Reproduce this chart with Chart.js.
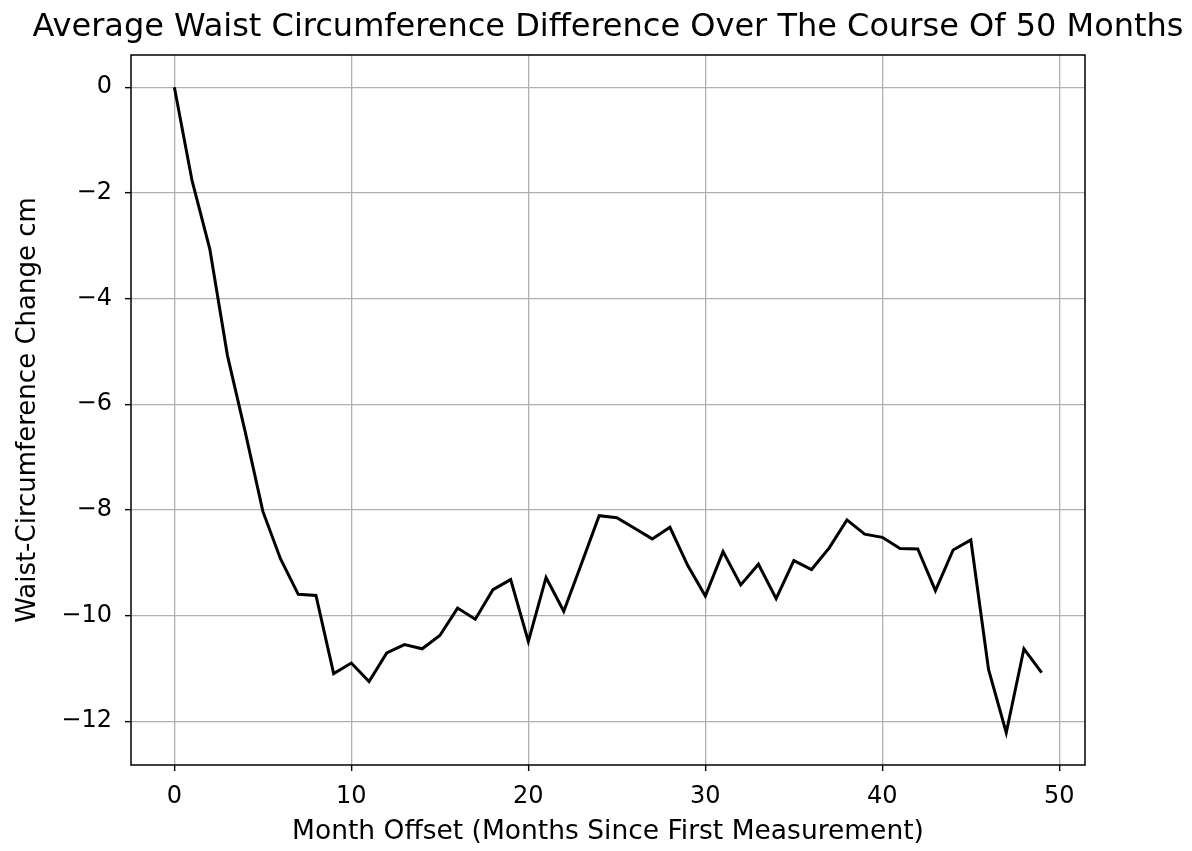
<!DOCTYPE html>
<html>
<head>
<meta charset="utf-8">
<script src="https://cdn.jsdelivr.net/npm/chart.js@4/dist/chart.umd.min.js"></script>
<style>
  html, body { margin: 0; padding: 0; background: #fff; }
  #wrap { width: 1192px; height: 851px; }
</style>
</head>
<body>
<div id="wrap"><canvas id="chart" width="1192" height="851"></canvas></div>
<script>
// 数据：月份偏移与腰围变化
const months = [];
for (let m = 0; m < 50; m++) months.push(m);
const waistChange = [
  0, -1.77, -3.06, -5.08, -6.52, -8.03, -8.93, -9.6, -9.62, -11.1,
  -10.9, -11.25, -10.71, -10.55, -10.63, -10.38, -9.86, -10.07, -9.51, -9.32,
  -10.49, -9.28, -9.92, -9.02, -8.11, -8.15, -8.35, -8.55, -8.33, -9.05,
  -9.63, -8.79, -9.42, -9.03, -9.68, -8.96, -9.13, -8.72, -8.19, -8.46,
  -8.52, -8.73, -8.74, -9.53, -8.76, -8.57, -11.02, -12.22, -10.63, -11.08
];
const xTicks = [0, 10, 20, 30, 40, 50];
const yTicks = [0, -2, -4, -6, -8, -10, -12];

const titleText = 'Average Waist Circumference Difference Over The Course Of 50 Months';
const fontFamily = '"DejaVu Sans", sans-serif';

// 外框 + 标题
const framePlugin = {
  id: 'frame',
  afterDraw(chart) {
    const { ctx, chartArea: a } = chart;
    ctx.save();
    ctx.strokeStyle = '#000';
    ctx.lineWidth = 1.5;
    ctx.strokeRect(a.left, a.top, a.right - a.left, a.bottom - a.top);
    ctx.fillStyle = '#000';
    ctx.font = '32px ' + fontFamily;
    ctx.textAlign = 'center';
    ctx.textBaseline = 'alphabetic';
    ctx.fillText(titleText, 608, 36);
    ctx.restore();
  }
};

const gridStyle = {
  color: '#b0b0b0',
  lineWidth: 1.3,
  tickColor: '#000',
  tickLength: 6,
  tickWidth: 1.4
};

new Chart(document.getElementById('chart'), {
  type: 'line',
  data: {
    datasets: [{
      data: months.map((m, i) => ({ x: m, y: waistChange[i] })),
      borderColor: '#000',
      borderWidth: 3,
      pointRadius: 0,
      tension: 0,
      fill: false
    }]
  },
  options: {
    responsive: false,
    animation: false,
    layout: { padding: { top: 55, right: 107, left: 0, bottom: 0 } },
    plugins: {
      legend: { display: false },
      tooltip: { enabled: false }
    },
    scales: {
      x: {
        type: 'linear',
        min: -2.45,
        max: 51.45,
        afterFit: s => { s.height = 86; },
        afterBuildTicks: s => { s.ticks = xTicks.map(v => ({ value: v })); },
        grid: gridStyle,
        border: { display: false },
        ticks: {
          color: '#000',
          font: { family: fontFamily, size: 24 },
          padding: 11,
          maxRotation: 0
        },
        title: {
          display: true,
          text: 'Month Offset (Months Since First Measurement)',
          color: '#000',
          font: { family: fontFamily, size: 26.5 },
          padding: { top: 0, bottom: 3 }
        }
      },
      y: {
        min: -12.83,
        max: 0.61,
        afterFit: s => { s.width = 131; },
        afterBuildTicks: s => { s.ticks = yTicks.map(v => ({ value: v })); },
        grid: gridStyle,
        border: { display: false },
        ticks: {
          color: '#000',
          font: { family: fontFamily, size: 24 },
          padding: 13,
          callback: v => (v < 0 ? '\u2212' + Math.abs(v) : String(v))
        },
        title: {
          display: true,
          text: 'Waist-Circumference Change cm',
          color: '#000',
          font: { family: fontFamily, size: 26 },
          padding: { top: 13, bottom: 0 }
        }
      }
    }
  },
  plugins: [framePlugin]
});
</script>
</body>
</html>
